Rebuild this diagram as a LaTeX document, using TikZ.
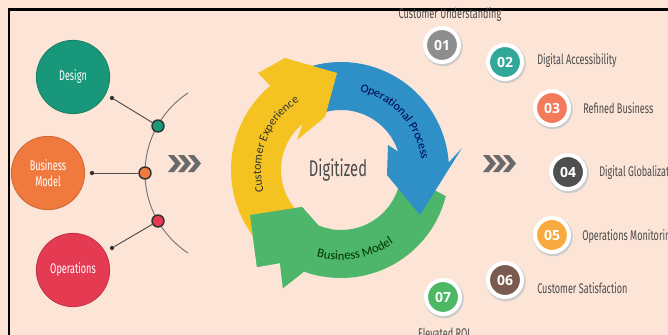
\documentclass[tikz,border=0pt]{standalone}
\usepackage{fontspec}
\newfontfamily\condfont[FakeStretch=0.65]{Fira Sans}
\newfontfamily\ringfont{Carlito}
\newfontfamily\numfont{Open Sans}
\usetikzlibrary{decorations.text}

\definecolor{peach}{HTML}{FCE4D7}
\definecolor{designgreen}{HTML}{18977A}
\definecolor{modelorange}{HTML}{F07A3E}
\definecolor{opsred}{HTML}{E43A52}
\definecolor{ringyellow}{HTML}{F4C322}
\definecolor{ringblue}{HTML}{2E90C7}
\definecolor{ringgreen}{HTML}{4DB66B}
\definecolor{labelgrey}{HTML}{4A4A4A}
\definecolor{chevgrey}{HTML}{6A6A6A}
\definecolor{badgegrey}{HTML}{8E8E8E}
\definecolor{badgeteal}{HTML}{31A99A}
\definecolor{badgesalmon}{HTML}{F47A5C}
\definecolor{badgedark}{HTML}{4F4F4F}
\definecolor{badgeorange}{HTML}{F9AA3F}
\definecolor{badgebrown}{HTML}{7B5B4F}
\definecolor{badgegreen}{HTML}{4DB863}

\tikzset{
  bigdisc/.style={circle, minimum size=55pt, inner sep=0pt, fill=#1, draw=#1!85!black,
    line width=0.6pt, text=white, align=center, font=\condfont\fontsize{10.5}{11.5}\selectfont},
  knob/.style={circle, minimum size=9pt, inner sep=0pt, fill=#1, draw=black!80, line width=1.1pt},
  dot/.style={circle, minimum size=3.2pt, inner sep=0pt, fill=black!80},
  link/.style={draw=black!70, line width=0.7pt},
  badge/.style={circle, minimum size=25.5pt, inner sep=0pt, fill=#1, draw=white, line width=3pt,
    text=white, font=\numfont\bfseries\fontsize{10.5}{11}\selectfont},
  tag/.style={inner sep=0pt, text=labelgrey, font=\condfont\fontsize{10.5}{11}\selectfont},
  chevron/.pic={\fill[chevgrey] (0,0) -- (6,0) -- (13,8.5) -- (6,17) -- (0,17) -- (7,8.5) -- cycle;}
}

\begin{document}
\begin{tikzpicture}[x=0.75pt,y=-0.75pt]
\useasboundingbox (0,0) rectangle (668,335);
\fill[peach] (0,0) rectangle (668,335);
\draw[line width=1.8pt] (9,336) -- (9,9.5) -- (668,9.5);

% left side: three topics on a bent rail
\begin{scope}[shift={(241,173)}]
\draw[black!55, line width=0.7pt] plot[domain=123.5:236.5, samples=60] (\x:96);
\end{scope}

\node[bigdisc=designgreen] (design) at (73,77) {Design};
\node[bigdisc=modelorange] (model) at (48,173) {Business\\Model};
\node[bigdisc=opsred] (ops) at (73,270) {Operations};

\node[dot] (designdot) at (112,98) {};
\node[dot] (modeldot) at (92,173) {};
\node[dot] (opsdot) at (112,248) {};
\node[knob=designgreen] (designknob) at (158,126) {};
\node[knob=modelorange] (modelknob) at (145,173) {};
\node[knob=opsred] (opsknob) at (158,221) {};
\draw[link] (designdot) -- (designknob);
\draw[link] (modeldot) -- (modelknob);
\draw[link] (opsdot) -- (opsknob);

\foreach \cx in {168,483}
  \foreach \i in {0,1,2}
    \pic at (\cx+\i*10,155) {chevron};

% the cycle
\begin{scope}[shift={(341,170)}]
\fill[ringgreen] plot[domain=14:110, samples=50] (\x:108) -- (-58,118) -- (-61,93) -- (-84,97)
  -- (-91,45) -- (-39,37) -- plot[domain=112:2, samples=50] (\x:60) -- cycle;
\fill[ringblue] plot[domain=250:356, samples=50] (\x:108) -- (121,-22) -- (79,45) -- (46,5)
  -- (47,-25) -- plot[domain=342:250, samples=50] (\x:60) -- cycle;
\fill[ringyellow] plot[domain=135:230, samples=50] (\x:110) -- (-83,-97) -- (-56,-112) -- (-4,-97)
  -- (-16,-53) -- (-44,-30) -- plot[domain=230:135, samples=50] (\x:60) -- cycle;
\fill[ringgreen] plot[domain=100:110, samples=10] (\x:108) -- (-58,118) -- (-61,93) -- (-84,97)
  -- (-91,45) -- (-39,37) -- plot[domain=112:100, samples=10] (\x:60) -- cycle;

\path[decorate, decoration={text along path, text align=center,
  text={|\ringfont\fontsize{9}{9}\selectfont\color{black!80}|Customer Experience}}]
  plot[domain=160:243, samples=60] (\x:80);
\path[decorate, decoration={text along path, text align=center,
  text={|\ringfont\fontsize{9}{9}\selectfont\color{blue!30!black}|Operational Process}}]
  plot[domain=278:358, samples=60] (\x:81);
\path[decorate, decoration={text along path, text align=center,
  text={|\ringfont\fontsize{9.5}{9.5}\selectfont\color{green!20!black}|Business Model}}]
  plot[domain=35:125, samples=60] (160-\x:90);
\end{scope}
\node[text=black!70, font=\condfont\fontsize{17}{17}\selectfont] (hub) at (338,170) {Digitized};

% numbered outcomes
\foreach \n/\x/\y/\c in {01/442/45/badgegrey, 02/505/62/badgeteal, 03/552/108/badgesalmon,
    04/568/172/badgedark, 05/552/235/badgeorange, 06/505/280/badgebrown, 07/443/297/badgegreen}{
  \fill[black!20] (\x+1,\y+1.5) circle[radius=14.8pt];
  \node[badge=\c] (badge\n) at (\x,\y) {\n};
}
\node[tag] (tag01) at (450,15) {Customer Understanding};
\node[tag, anchor=west] (tag02) at (537,61) {Digital Accessibility};
\node[tag, anchor=west] (tag03) at (583,108) {Refined Business};
\node[tag, anchor=west] (tag04) at (599,173) {Digital Globalization};
\node[tag, anchor=west] (tag05) at (582,237) {Operations Monitoring};
\node[tag, anchor=west] (tag06) at (537,288) {Customer Satisfaction};
\node[tag] (tag07) at (444,333) {Elevated ROI};
\end{tikzpicture}
\end{document}
